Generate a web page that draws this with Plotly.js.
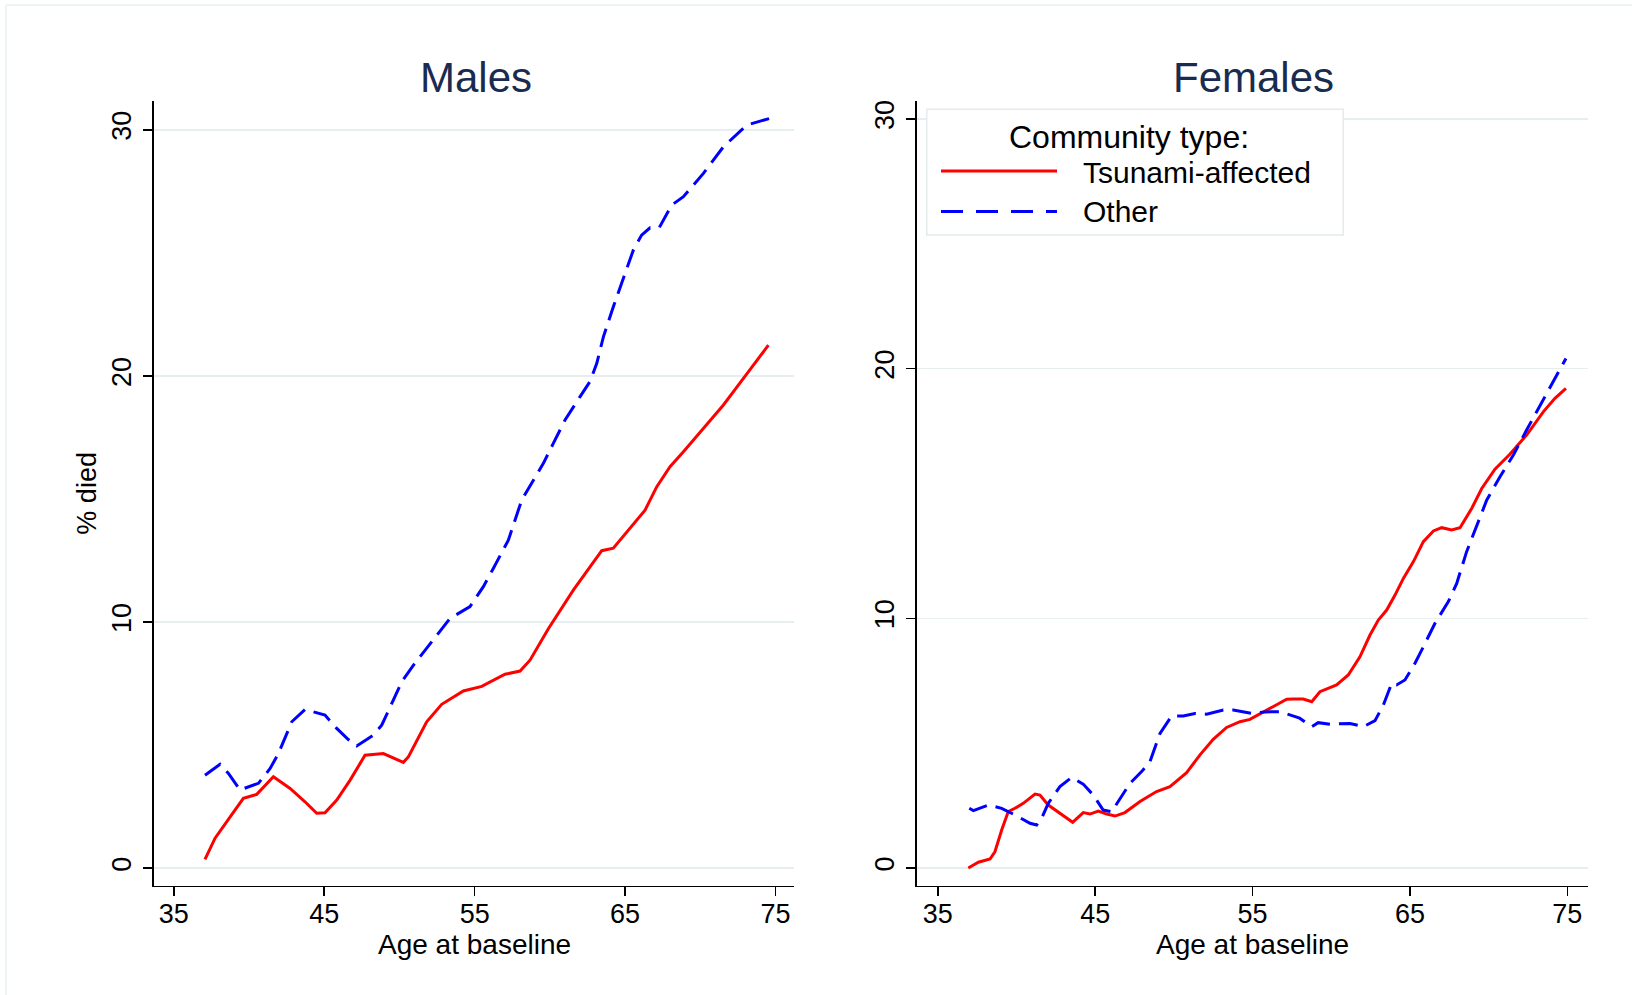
<!DOCTYPE html>
<html>
<head>
<meta charset="utf-8">
<script src="https://cdn.plot.ly/plotly-3.0.1.min.js"></script>
<style>html,body{margin:0;padding:0;background:#fff;}#chart{width:1632px;height:995px;}</style>
</head>
<body>
<div id="chart"></div>
<script>
// ---- Data ----
const panelTitles = ["Males", "Females"];
const seriesNames = ["Tsunami-affected", "Other"];
const legendTitle = "Community type:";
const xTitle = "Age at baseline";
const yTitle = "% died";
const xTicks = [35, 45, 55, 65, 75];
const yTicks = [0, 10, 20, 30];

const malesTsunamiAge = [37.07,37.74,38.52,39.62,40.51,41.62,42.73,43.72,44.5,45.05,45.83,46.72,47.71,48.93,50.26,50.6,51.81,52.81,54.25,55.47,57.02,58.02,58.68,59.9,61.56,62.45,63.45,64.22,65.44,66.33,67.11,67.99,68.88,70.21,71.54,72.87,74.53];
const malesTsunamiPct = [0.36,1.22,1.89,2.84,3.0,3.72,3.24,2.7,2.23,2.25,2.77,3.58,4.59,4.66,4.3,4.53,5.95,6.66,7.2,7.39,7.88,8.01,8.45,9.73,11.3,12.05,12.9,13.0,13.88,14.55,15.5,16.31,16.92,17.87,18.82,19.9,21.25];

const malesOtherAge = [37.07,38.07,38.63,39.4,40.62,41.4,41.95,42.84,43.72,44.27,45.05,45.83,46.6,47.16,48.27,48.82,49.37,50.15,50.92,52.03,53.36,54.69,55.58,56.24,57.24,58.13,58.9,59.57,60.23,61.01,62.01,62.67,63.12,63.56,64.22,64.89,65.55,66.1,66.66,67.28,68.1,68.88,70.21,71.54,73.09,75.1];
const malesOtherPct = [3.78,4.22,3.85,3.18,3.45,4.05,4.66,5.95,6.45,6.35,6.22,5.68,5.23,4.97,5.41,5.81,6.55,7.57,8.24,9.12,10.15,10.63,11.44,12.18,13.33,14.96,15.77,16.45,17.26,18.21,19.16,19.77,20.51,21.59,22.81,23.96,25.11,25.72,26.02,26.03,26.94,27.28,28.23,29.31,30.19,30.55];

const femalesTsunamiAge = [36.94,37.58,38.32,38.63,39.06,39.48,39.9,40.43,41.18,41.49,42.02,42.76,43.29,43.57,44.24,44.67,45.2,45.73,46.26,46.89,47.85,48.9,49.75,50.81,51.66,52.5,53.35,54.2,54.83,55.9,57.17,57.59,58.22,58.76,59.28,60.34,61.08,61.82,62.46,62.99,63.52,64.05,64.58,65.22,65.85,66.49,67.02,67.65,68.18,68.92,69.56,70.4,71.36,72.41,73.47,74.21,74.91];
const femalesTsunamiPct = [0,0.23,0.36,0.65,1.52,2.26,2.39,2.59,2.96,2.92,2.52,2.19,1.95,1.83,2.22,2.16,2.28,2.16,2.08,2.22,2.66,3.06,3.26,3.82,4.53,5.15,5.63,5.86,5.95,6.33,6.76,6.77,6.77,6.66,7.06,7.33,7.73,8.46,9.33,9.93,10.33,10.93,11.6,12.27,13.07,13.5,13.63,13.54,13.63,14.4,15.2,15.97,16.58,17.34,18.27,18.81,19.21];

const femalesOtherAge = [37.0,37.26,38.21,39.06,40.12,40.86,41.28,41.6,42.02,42.76,43.51,44.24,44.88,45.51,46.04,46.68,47.21,47.95,48.48,49.12,49.86,50.6,51.34,52.08,53.14,53.77,54.94,55.78,56.74,57.99,58.76,59.17,59.92,61.19,62.04,62.78,63.31,63.84,64.15,64.68,65.32,65.85,66.59,67.44,67.97,68.6,69.24,69.88,70.72,71.57,72.41,73.47,74.32,74.91];
const femalesOtherPct = [2.39,2.3,2.52,2.39,2.05,1.79,1.72,1.99,2.59,3.26,3.63,3.36,2.92,2.32,2.25,2.85,3.39,3.86,4.26,5.39,6.09,6.09,6.19,6.16,6.33,6.33,6.19,6.25,6.26,6.0,5.66,5.82,5.76,5.79,5.66,5.9,6.53,7.4,7.33,7.53,8.2,8.86,9.8,10.67,11.4,12.67,13.67,14.74,15.67,16.54,17.54,18.74,19.68,20.41];

// ---- Styling ----
const W = 1632, H = 995;
const px = x => x / W;
const py = y => 1 - y / H;
const FONT = "Liberation Sans, Arial, Helvetica, sans-serif";
const RED = "#ff0000", BLUE = "#0000ff";
const GRID = "#e6eef0";
const DASH = "19px,9px";

const redLine = {color: RED, width: 3};
const blueLine = {color: BLUE, width: 3, dash: DASH};

const traces = [
  {x: malesTsunamiAge, y: malesTsunamiPct, name: seriesNames[0], mode: "lines", line: redLine, xaxis: "x", yaxis: "y", showlegend: false},
  {x: malesOtherAge, y: malesOtherPct, name: seriesNames[1], mode: "lines", line: blueLine, xaxis: "x", yaxis: "y", showlegend: false},
  {x: femalesTsunamiAge, y: femalesTsunamiPct, name: seriesNames[0], mode: "lines", line: redLine, xaxis: "x2", yaxis: "y2", showlegend: false},
  {x: femalesOtherAge, y: femalesOtherPct, name: seriesNames[1], mode: "lines", line: blueLine, xaxis: "x2", yaxis: "y2", showlegend: false}
];

function xAxis(domain, range) {
  return {
    domain: domain, range: range, tickmode: "array", tickvals: xTicks, ticktext: xTicks.map(String),
    showgrid: false, zeroline: false, showline: true, linecolor: "#000", linewidth: 1.6,
    ticks: "outside", ticklen: 9, tickwidth: 1.6, tickcolor: "#000", ticklabelstandoff: -6,
    tickfont: {family: FONT, size: 27, color: "#000"},
    fixedrange: true
  };
}
function yAxis(domain, range, anchor) {
  return {
    domain: domain, range: range, anchor: anchor, tickmode: "array", tickvals: yTicks, ticktext: yTicks.map(String),
    showgrid: true, gridcolor: GRID, gridwidth: 1.6, zeroline: false,
    showline: true, linecolor: "#000", linewidth: 1.6,
    ticks: "outside", ticklen: 9, tickwidth: 1.6, tickcolor: "#000", tickangle: -90, ticklabelstandoff: 2,
    tickfont: {family: FONT, size: 27, color: "#000"},
    fixedrange: true
  };
}

const yDom = [py(885.7), py(101)];
const layout = {
  width: W, height: H,
  margin: {l: 0, r: 0, t: 0, b: 0, pad: 0},
  paper_bgcolor: "#fff", plot_bgcolor: "#fff",
  showlegend: false,
  xaxis: xAxis([px(154), px(794.1)], [33.68, 76.24]),
  yaxis: Object.assign(yAxis(yDom, [-0.71, 31.17], "x"), {
    title: {text: yTitle, font: {family: FONT, size: 27, color: "#000"}, standoff: 2}
  }),
  xaxis2: Object.assign(xAxis([px(917), px(1588.3)], [33.68, 76.33]), {anchor: "y2"}),
  yaxis2: yAxis(yDom, [-0.71, 30.72], "x2"),
  annotations: [
    {text: panelTitles[0], x: px(475.6), y: py(77), xref: "paper", yref: "paper", xanchor: "center", yanchor: "middle", showarrow: false, font: {family: FONT, size: 42, color: "#1a2b50"}},
    {text: panelTitles[1], x: px(1253), y: py(77), xref: "paper", yref: "paper", xanchor: "center", yanchor: "middle", showarrow: false, font: {family: FONT, size: 42, color: "#1a2b50"}},
    {text: xTitle, x: 0.5, y: py(944), xref: "x domain", yref: "paper", xanchor: "center", yanchor: "middle", showarrow: false, font: {family: FONT, size: 28, color: "#000"}},
    {text: xTitle, x: 0.5, y: py(944), xref: "x2 domain", yref: "paper", xanchor: "center", yanchor: "middle", showarrow: false, font: {family: FONT, size: 28, color: "#000"}},
    {text: legendTitle, x: px(1129), y: py(137), xref: "paper", yref: "paper", xanchor: "center", yanchor: "middle", showarrow: false, font: {family: FONT, size: 32, color: "#000"}},
    {text: seriesNames[0], x: px(1081), y: py(173), xref: "paper", yref: "paper", xanchor: "left", yanchor: "middle", showarrow: false, font: {family: FONT, size: 30, color: "#000"}},
    {text: seriesNames[1], x: px(1081), y: py(212), xref: "paper", yref: "paper", xanchor: "left", yanchor: "middle", showarrow: false, font: {family: FONT, size: 30, color: "#000"}}
  ],
  shapes: [
    // graph region outline (faint)
    {type: "line", xref: "paper", yref: "paper", x0: px(6), x1: px(1632), y0: py(5), y1: py(5), line: {color: "#e8eff1", width: 1.5}},
    {type: "line", xref: "paper", yref: "paper", x0: px(6), x1: px(6), y0: py(5), y1: py(995), line: {color: "#e8eff1", width: 1.5}},
    // legend box
    {type: "rect", xref: "paper", yref: "paper", x0: px(926.7), x1: px(1343.3), y0: py(109.3), y1: py(235), fillcolor: "#fff", line: {color: "#e3ebed", width: 1.5}, layer: "above"},
    {type: "line", xref: "paper", yref: "paper", x0: px(941), x1: px(1057), y0: py(171), y1: py(171), line: {color: RED, width: 3}},
    {type: "line", xref: "paper", yref: "paper", x0: px(941), x1: px(1057), y0: py(211.5), y1: py(211.5), line: {color: BLUE, width: 3, dash: "22px,13px"}}
  ]
};

Plotly.newPlot("chart", traces, layout, {staticPlot: true, displayModeBar: false});
</script>
</body>
</html>
